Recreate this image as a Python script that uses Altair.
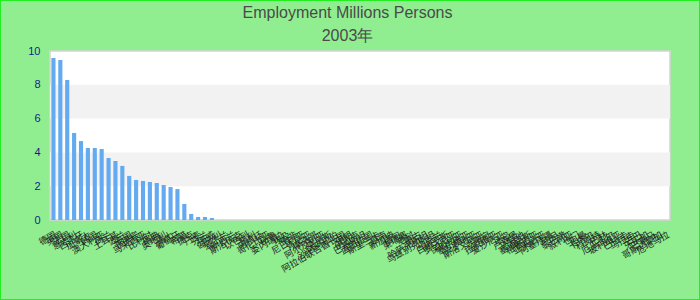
import altair as alt
import pandas as pd

# Chart text
title_text = "Employment Millions Persons"
subtitle_text = "2003年"

# Categories (x axis)
countries = [
    "德国", "英国", "法国", "意大利", "西班牙", "加拿大", "韩国", "澳大利亚", "荷兰", "土耳其",
    "波兰", "泰国", "菲律宾", "马来西亚", "比利时", "瑞典", "奥地利", "瑞士", "葡萄牙", "希腊",
    "捷克", "丹麦", "芬兰", "挪威", "匈牙利", "爱尔兰", "新西兰", "斯洛伐克", "以色列", "智利",
    "阿根廷", "哥伦比亚", "秘鲁", "委内瑞拉", "埃及", "南非", "尼日利亚", "肯尼亚", "摩洛哥", "阿尔及利亚",
    "突尼斯", "沙特阿拉伯", "阿拉伯联合酋长国", "伊朗", "伊拉克", "巴基斯坦", "孟加拉国", "斯里兰卡", "越南", "新加坡",
    "缅甸", "柬埔寨", "老挝", "蒙古", "哈萨克斯坦", "乌兹别克斯坦", "乌克兰", "白俄罗斯", "罗马尼亚", "保加利亚",
    "塞尔维亚", "克罗地亚", "斯洛文尼亚", "立陶宛", "拉脱维亚", "爱沙尼亚", "冰岛", "卢森堡", "马耳他", "塞浦路斯",
    "格鲁吉亚", "亚美尼亚", "阿塞拜疆", "约旦", "黎巴嫩", "叙利亚", "也门", "阿曼", "卡塔尔", "科威特",
    "巴林", "厄瓜多尔", "玻利维亚", "巴拉圭", "乌拉圭", "古巴", "牙买加", "巴拿马", "哥斯达黎加", "危地马拉",
]

# Employment (millions); categories without a reported value are left empty
reported = [9.59, 9.47, 8.28, 5.15, 4.67, 4.26, 4.26, 4.20, 3.67, 3.49,
            3.20, 2.61, 2.37, 2.31, 2.25, 2.19, 2.07, 1.95, 1.83, 0.95,
            0.36, 0.18, 0.18, 0.12]
employment = reported + [None] * (len(countries) - len(reported))

# Alternating shaded bands behind the bars
band_start = [2, 6]
band_end = [4, 8]

W, H = 620, 169

df = pd.DataFrame({"country": countries, "employment": employment})
bands = pd.DataFrame({"y0": band_start, "y1": band_end})

yscale = alt.Scale(domain=[0, 10], nice=False)
y_axis = alt.Axis(
    title=None,
    values=[0, 2, 4, 6, 8, 10],
    ticks=False,
    domain=False,
    grid=False,
    labelColor="#1a1a8c",
    labelFontSize=11,
    labelFont="Liberation Sans",
    labelPadding=10,
)

band_layer = alt.Chart(bands).mark_rect(color="#f2f2f2").encode(
    x=alt.value(0),
    x2=alt.value(W),
    y=alt.Y("y0:Q", scale=yscale, axis=y_axis),
    y2="y1:Q",
)

bar_layer = alt.Chart(df).mark_bar(color="#64aaf0").encode(
    x=alt.X(
        "country:N",
        scale=alt.Scale(domain=countries, paddingInner=0.4, paddingOuter=0.2),
        axis=alt.Axis(
            title=None,
            labelAngle=-30,
            labelFontSize=9,
            labelColor="#222222",
            labelFont="Noto Sans CJK SC",
            ticks=False,
            domain=False,
            labelPadding=10,
            labelOverlap=False,
        ),
    ),
    y=alt.Y("employment:Q", scale=yscale, axis=y_axis),
)


def heading(text, y):
    return alt.Chart(pd.DataFrame({"t": [text]})).mark_text(
        fontSize=16, font="Liberation Sans", color="#4a4a4a", baseline="middle", align="center"
    ).encode(text="t:N", x=alt.value(297.5), y=alt.value(y))


title_layer = heading(title_text, -38.5)
subtitle_layer = heading(subtitle_text, -15.5)

border_layer = alt.Chart(pd.DataFrame({"k": [0]})).mark_rect(
    fill=None, stroke="#22ee22", strokeWidth=2
).encode(
    x=alt.value(-50),
    x2=alt.value(650),
    y=alt.value(-51),
    y2=alt.value(249),
)

chart = alt.layer(
    band_layer, bar_layer, title_layer, subtitle_layer, border_layer
).properties(
    width=W,
    height=H,
    autosize=alt.AutoSizeParams(type="none"),
    padding={"left": 50, "top": 51, "right": 30, "bottom": 80},
    background="#90ee90",
).configure_view(
    fill="white", stroke="#d4d4d4", strokeWidth=1.5
).configure_axis(grid=False)

chart.save("out.html", embed_options={"renderer": "svg", "actions": False})
